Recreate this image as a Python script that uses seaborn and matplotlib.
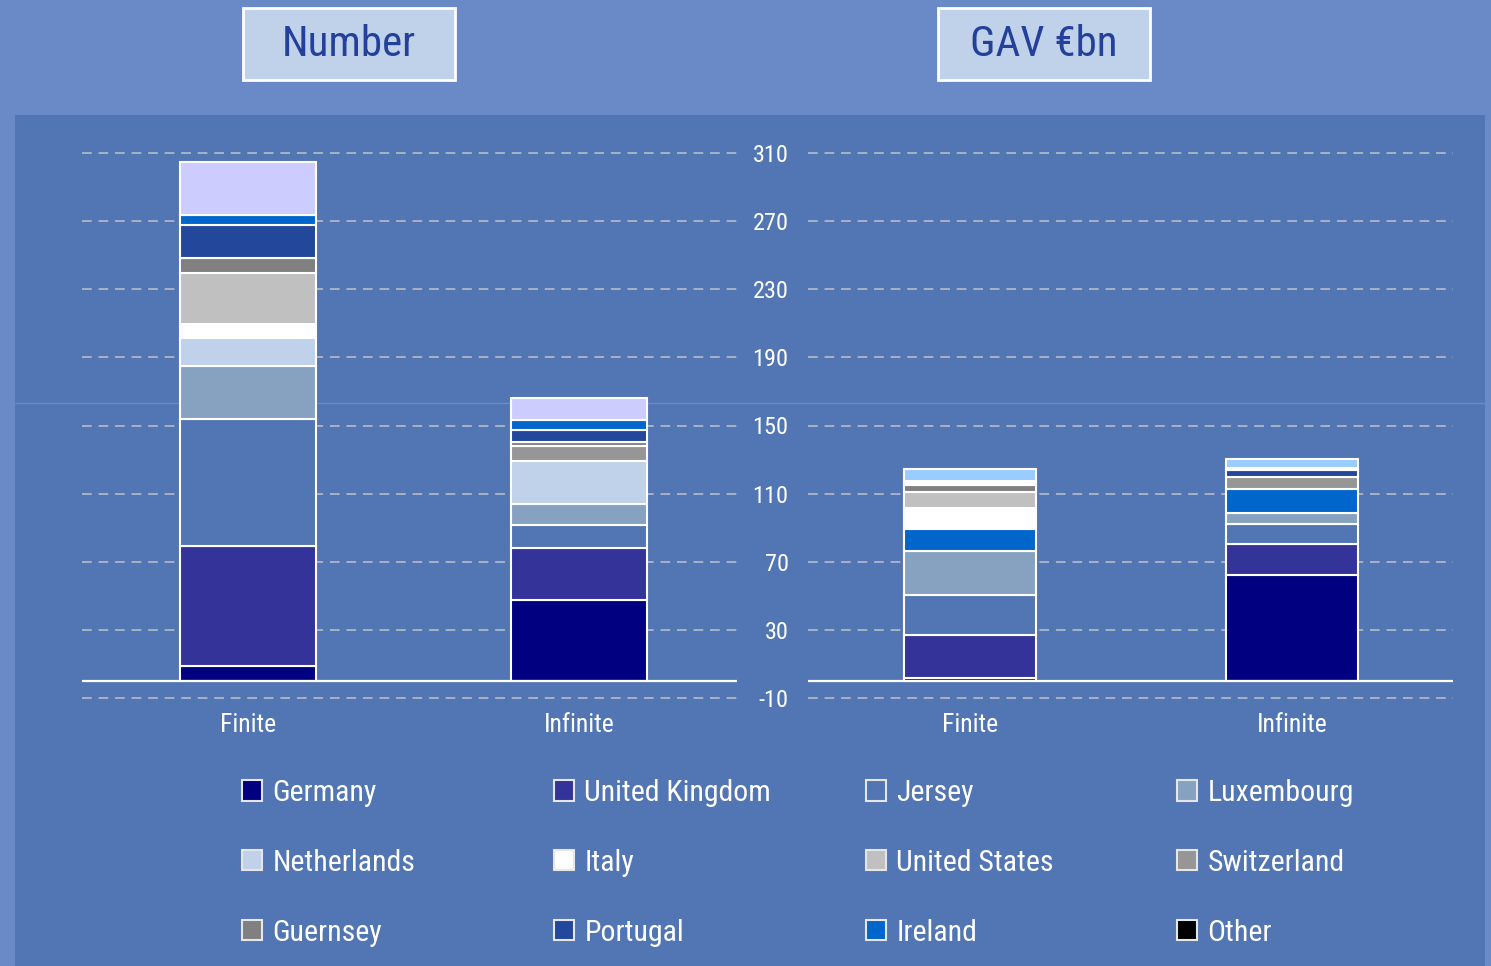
import numpy as np
import pandas as pd
import matplotlib
matplotlib.use("Agg")
import matplotlib.pyplot as plt
import seaborn as sns
from matplotlib.patches import Patch, Rectangle
from matplotlib import font_manager

# ---------------- data ----------------
categories = ["Finite", "Infinite"]
series = ["Germany", "United Kingdom", "Jersey", "Luxembourg", "Netherlands", "Italy",
          "United States", "Switzerland", "Guernsey", "Portugal", "Ireland", "Other"]
number_finite = [8.5, 70.6, 74.7, 31.2, 16.6, 8.0, 30.0, 0.0, 8.8, 19.4, 5.9, 31.2]
number_infinite = [47.6, 30.3, 13.5, 12.4, 25.3, 0.0, 0.0, 8.8, 2.4, 7.0, 6.0, 12.8]
gav_finite = [2.0, 24.7, 23.5, 25.9, 12.9, 12.4, 9.4, 0.0, 4.5, 1.2, 1.2, 6.8]
gav_infinite = [62.0, 18.2, 11.8, 6.5, 14.1, 0.0, 0.0, 7.1, 0.0, 4.0, 1.5, 5.4]
yticks = [-10, 30, 70, 110, 150, 190, 230, 270, 310]
panel_titles = ["Number", "GAV \u20acbn"]

# ---------------- style ----------------
BG = "#5275b3"
BAND = "#6a89c7"
colors_number = ["#000080", "#333399", BG, "#87a2c1", "#c0d1ea", "#ffffff",
                 "#c0c0c0", "#969696", "#808080", "#23479a", "#0066cc", "#ccccff"]
colors_gav = ["#000080", "#333399", BG, "#87a2c1", "#0066cc", "#ffffff",
              "#c0c0c0", "#969696", "#808080", "#23479a", "#0066cc", "#99ccff"]
legend_colors = ["#000080", "#333399", BG, "#87a2c1", "#c0d1ea", "#ffffff",
                 "#c0c0c0", "#969696", "#808080", "#23479a", "#0066cc", "#000000"]

sns.set_theme(style="white")
avail = {f.name for f in font_manager.fontManager.ttflist}
fam = [f for f in ["Liberation Sans Narrow", "Roboto Condensed", "Liberation Sans", "DejaVu Sans"] if f in avail]
plt.rcParams["font.family"] = fam

W, H = 1491, 966
fig = plt.figure(figsize=(W / 100, H / 100), dpi=100)
fig.patch.set_facecolor(BAND)

def fx(px):
    return px / W

def fy(py):
    return 1 - py / H

# main background panel (behind the axes)
fig.patches.append(Rectangle((fx(15), 0), fx(1485) - fx(15), fy(115), transform=fig.transFigure,
                             facecolor=BG, edgecolor="none", zorder=-10))
fig.lines.append(plt.Line2D([fx(15), fx(1485)], [fy(403), fy(403)], transform=fig.transFigure,
                            color="#6c8cc8", lw=1, zorder=-9))

ymin, ymax = -12, 312
bot, top = fy(701.4), fy(149.6)
ax1 = fig.add_axes([fx(82), bot, fx(737) - fx(82), top - bot])
ax2 = fig.add_axes([fx(808), bot, fx(1453) - fx(808), top - bot])

panels = [
    (ax1, [number_finite, number_infinite], colors_number, 0.41, (-0.502, 1.477)),
    (ax2, [gav_finite, gav_infinite], colors_gav, 0.41, (-0.503, 1.50)),
]

for ax, data, cols, bw, xl in panels:
    ax.set_facecolor("none")
    for ci, cat in enumerate(categories):
        vals = data[ci]
        bottom = 0.0
        for si, name in enumerate(series):
            v = vals[si]
            if v > 0:
                sns.barplot(x=[cat], y=[v], order=categories, bottom=bottom, ax=ax,
                            color=cols[si], saturation=1, width=bw,
                            edgecolor="white", linewidth=1.5, zorder=3)
            bottom += v
    for t in yticks:
        ax.axhline(t, color="#a9b1c6", lw=1.4, ls=(0, (5, 3.5)), zorder=1)
    ax.axhline(0, color="white", lw=1.6, zorder=4)
    ax.set_xlim(*xl)
    ax.set_ylim(ymin, ymax)
    ax.set_xlabel("")
    ax.set_ylabel("")
    for s in ax.spines.values():
        s.set_visible(False)
    ax.tick_params(axis="x", length=0, pad=8, labelsize=18.5, labelcolor="white")
    ax.set_yticks(yticks)

ax1.set_yticklabels([])
ax1.tick_params(axis="y", length=0)
ax2.set_yticklabels([str(t) for t in yticks])
ax2.tick_params(axis="y", length=0, pad=14, labelsize=17.5, labelcolor="white")

# panel titles
for text, x0 in zip(panel_titles, [243, 938]):
    fig.patches.append(Rectangle((fx(x0), fy(80)), fx(212), 72 / H, transform=fig.transFigure,
                                 facecolor="#c0d1ea", edgecolor="white", lw=2, zorder=2))
    fig.text(fx(x0 + 106), fy(44), text, ha="center", va="center", fontsize=31,
             color="#23409a", zorder=3)

# legend: 4 columns, row-wise order
col_x = [242, 554, 866, 1177]
for c in range(4):
    idx = [c, c + 4, c + 8]
    handles = [Patch(facecolor=legend_colors[i], edgecolor="#e6e6e6", lw=1.5, label=series[i]) for i in idx]
    fig.legend(handles=handles, loc="upper left", bbox_to_anchor=(fx(col_x[c]), fy(779)),
               frameon=False, fontsize=21.5, labelcolor="white", handlelength=0.67,
               handleheight=0.67, handletextpad=0.35, labelspacing=1.4,
               borderpad=0, borderaxespad=0)

fig.savefig("out.png", dpi=100, facecolor=fig.get_facecolor())
